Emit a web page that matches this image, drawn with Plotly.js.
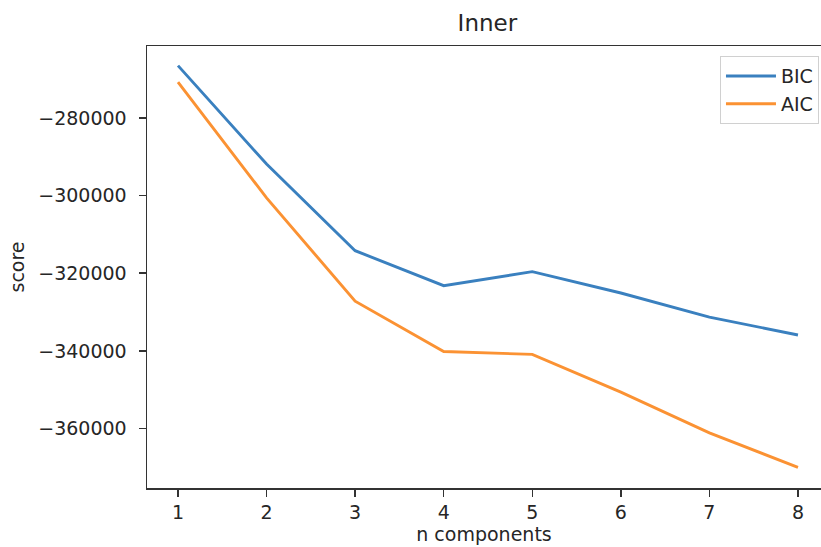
<!DOCTYPE html>
<html>
<head>
<meta charset="utf-8">
<script src="https://cdn.plot.ly/plotly-3.0.1.min.js"></script>
<style>html,body{margin:0;padding:0;background:#fff;}#chart{width:821px;height:547px;}</style>
</head>
<body>
<div id="chart"></div>
<script>
const nComponents = [1, 2, 3, 4, 5, 6, 7, 8];
const bicScores = [-266550, -291900, -314200, -323200, -319600, -325100, -331300, -335900];
const aicScores = [-270800, -300600, -327200, -340150, -340900, -350600, -361100, -370000];
const yTickVals = [-280000, -300000, -320000, -340000, -360000];
const yTickText = ['\u2212280000', '\u2212300000', '\u2212320000', '\u2212340000', '\u2212360000'];

const font = 'DejaVu Sans, sans-serif';
const traces = [
  {x: nComponents, y: bicScores, name: 'BIC', type: 'scatter', mode: 'lines',
   line: {color: '#3a80bf', width: 2.9}},
  {x: nComponents, y: aicScores, name: 'AIC', type: 'scatter', mode: 'lines',
   line: {color: '#fb9233', width: 2.9}}
];
const layout = {
  width: 821, height: 547,
  margin: {l: 147, r: 0, t: 46, b: 59},
  paper_bgcolor: '#fff', plot_bgcolor: '#fff',
  font: {family: font, size: 19, color: '#262626'},
  title: {text: 'Inner', x: 0.505, xref: 'paper', xanchor: 'center',
          y: 1 - 23/547, yref: 'container', yanchor: 'middle',
          font: {family: font, size: 23, color: '#262626'}},
  xaxis: {range: [0.65, 8.26], tickvals: nComponents, showgrid: false, zeroline: false,
          showline: true, mirror: true, linecolor: '#333', linewidth: 1.5,
          ticks: 'outside', ticklen: 7, tickwidth: 1.5, tickcolor: '#333',
          ticklabelstandoff: 0,
          title: {text: 'n components', standoff: 5, font: {family: font, size: 19}}},
  yaxis: {range: [-375300, -261500], tickvals: yTickVals, ticktext: yTickText,
          showgrid: false, zeroline: false,
          showline: true, mirror: false, linecolor: '#333', linewidth: 1.5,
          ticks: 'outside', ticklen: 7, tickwidth: 1.5, tickcolor: '#333',
          ticklabelstandoff: 8,
          title: {text: 'score', standoff: 8, font: {family: font, size: 19}}},
  legend: {x: 0.997, xanchor: 'right', y: 0.977, yanchor: 'top',
           bgcolor: '#fff', bordercolor: '#d0d0d0', borderwidth: 1,
           itemwidth: 50,
           font: {family: font, size: 19, color: '#262626'}},
  showlegend: true
};
Plotly.newPlot('chart', traces, layout, {displayModeBar: false, staticPlot: true});
</script>
</body>
</html>
